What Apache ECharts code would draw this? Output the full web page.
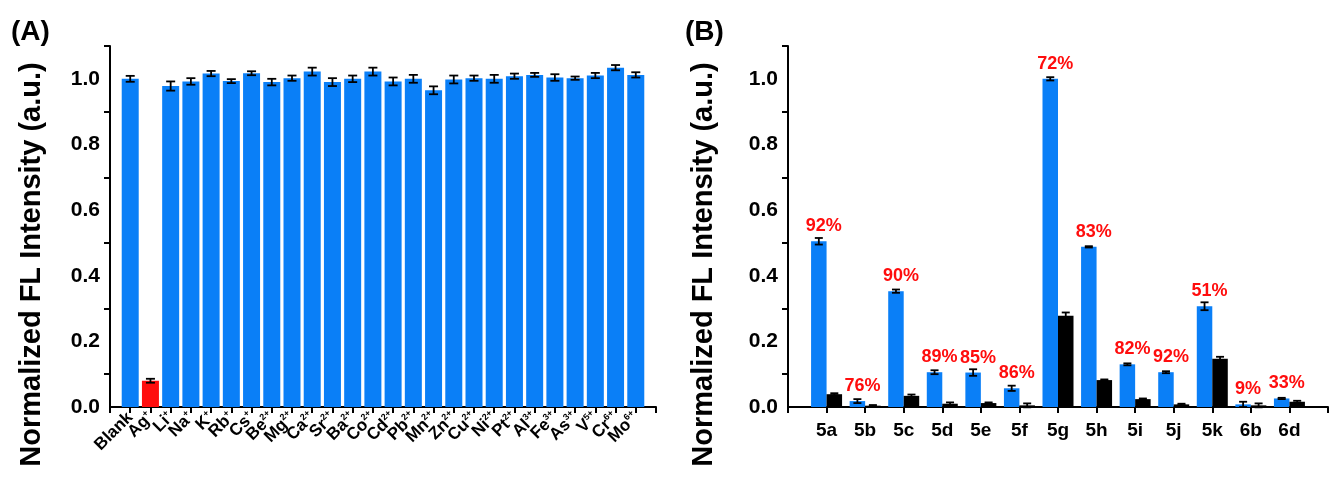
<!DOCTYPE html>
<html>
<head>
<meta charset="utf-8">
<script src="https://cdn.jsdelivr.net/npm/echarts@6/dist/echarts.min.js"></script>
<style>
html, body { margin: 0; padding: 0; background: #fff; }
#chart { width: 1331px; height: 479px; }
</style>
</head>
<body>
<div id="chart"></div>
<script>
// panel A: metal ion selectivity
var ionNames = ['Blank', 'Ag', 'Li', 'Na', 'K', 'Rb', 'Cs', 'Be', 'Mg', 'Ca', 'Sr', 'Ba', 'Co',
    'Cd', 'Pb', 'Mn', 'Zn', 'Cu', 'Ni', 'Pt', 'Al', 'Fe', 'As', 'V', 'Cr', 'Mo'];
var ionCharges = ['', '+', '+', '+', '+', '+', '+', '2+', '2+', '2+', '2+', '2+', '2+',
    '2+', '2+', '2+', '2+', '2+', '2+', '2+', '3+', '3+', '3+', '5+', '6+', '6+'];
var ionValues = [1.000, 0.080, 0.978, 0.992, 1.016, 0.993, 1.017, 0.990, 1.002, 1.022, 0.990, 1.000, 1.022,
    0.992, 1.000, 0.965, 0.998, 1.002, 1.000, 1.008, 1.012, 1.004, 1.002, 1.010, 1.034, 1.012];
var ionErrors = [0.009, 0.006, 0.014, 0.010, 0.008, 0.006, 0.006, 0.010, 0.008, 0.012, 0.012, 0.010, 0.012,
    0.012, 0.012, 0.012, 0.012, 0.008, 0.012, 0.008, 0.006, 0.010, 0.005, 0.008, 0.008, 0.008];
var quenchIon = 'Ag';

// panel B: compounds, before / after
var compounds = ['5a', '5b', '5c', '5d', '5e', '5f', '5g', '5h', '5i', '5j', '5k', '6b', '6d'];
var blueValues = [0.505, 0.018, 0.353, 0.106, 0.105, 0.057, 1.000, 0.488, 0.130, 0.106, 0.307, 0.008, 0.026];
var blueErrors = [0.010, 0.006, 0.005, 0.006, 0.010, 0.008, 0.005, 0.002, 0.003, 0.003, 0.012, 0.008, 0.002];
var blackValues = [0.039, 0.004, 0.034, 0.010, 0.012, 0.005, 0.278, 0.082, 0.024, 0.008, 0.147, 0.005, 0.016];
var blackErrors = [0.003, 0.002, 0.004, 0.004, 0.002, 0.006, 0.010, 0.002, 0.002, 0.002, 0.006, 0.006, 0.003];
var percents = ['92%', '76%', '90%', '89%', '85%', '86%', '72%', '83%', '82%', '92%', '51%', '9%', '33%'];

// y axis ticks
var yLabelValues = [0, 0.2, 0.4, 0.6, 0.8, 1.0];
var yTickValues = [0.1, 0.3, 0.5, 0.7, 0.9, 1.1];

var FONT = 'Liberation Sans, Arial, sans-serif';
var BLUE = '#0a7ff7';
var RED = '#ff0d0d';
var yTitle = 'Normalized FL Intensity (a.u.)';

function errorBars(shift, cap) {
    return function (params, api) {
        var x = api.value(0), y = api.value(1), e = api.value(2);
        var hi = api.coord([x, y + e]);
        var lo = api.coord([x, y - e]);
        var cx = hi[0] + shift;
        var st = { stroke: '#000', lineWidth: 1.8 };
        return {
            type: 'group',
            children: [
                { type: 'line', shape: { x1: cx, y1: hi[1], x2: cx, y2: lo[1] }, style: st },
                { type: 'line', shape: { x1: cx - cap, y1: hi[1], x2: cx + cap, y2: hi[1] }, style: st },
                { type: 'line', shape: { x1: cx - cap, y1: lo[1], x2: cx + cap, y2: lo[1] }, style: st }
            ]
        };
    };
}

function pairs(vals) {
    return vals.map(function (v, i) { return [i, v]; });
}
function triples(vals, errs) {
    return vals.map(function (v, i) { return [i, v, errs[i]]; });
}

function makeYAxis(gridIndex, gap) {
    return {
        type: 'value',
        gridIndex: gridIndex,
        min: 0,
        max: 1.1,
        name: yTitle,
        nameLocation: 'middle',
        nameGap: gap,
        nameTextStyle: { fontFamily: FONT, fontSize: 29, fontWeight: 'bold', color: '#000', padding: [0, 76, 0, 0] },
        splitLine: { show: false },
        axisLine: { show: true, onZero: false, lineStyle: { color: '#000', width: 2 } },
        axisTick: { show: true, length: 6, lineStyle: { width: 2, color: '#000' }, customValues: yTickValues },
        axisLabel: {
            customValues: yLabelValues,
            fontFamily: FONT, fontSize: 21, fontWeight: 'bold', color: '#000', margin: 10,
            formatter: function (v) { return v.toFixed(1); }
        }
    };
}

function makeXAxis(gridIndex, count, label) {
    return {
        type: 'value', gridIndex: gridIndex, min: -1, max: count, interval: 1,
        splitLine: { show: false },
        axisLine: { onZero: false, lineStyle: { color: '#000', width: 2 } },
        axisTick: { show: true, length: 6, lineStyle: { width: 2, color: '#000' } },
        axisLabel: label
    };
}

var chart = echarts.init(document.getElementById('chart'));
chart.setOption({
    animation: false,
    backgroundColor: '#fff',
    title: [
        { text: '(A)', left: 6, top: 13, textStyle: { fontFamily: FONT, fontSize: 28, fontWeight: 'bold', color: '#000' } },
        { text: '(B)', left: 680, top: 13, textStyle: { fontFamily: FONT, fontSize: 28, fontWeight: 'bold', color: '#000' } }
    ],
    grid: [
        { left: 110, top: 46, width: 546, height: 361 },
        { left: 788, top: 46, width: 541, height: 361 }
    ],
    xAxis: [
        makeXAxis(0, ionNames.length, {
            rotate: 45, margin: 8, color: '#000',
            formatter: function (v) {
                var i = Math.round(v);
                if (i < 0 || i >= ionNames.length) return '';
                return ionCharges[i] ? '{b|' + ionNames[i] + '}{s|' + ionCharges[i] + '}' : '{b|' + ionNames[i] + '}';
            },
            rich: {
                b: { fontFamily: FONT, fontSize: 17, fontWeight: 'bold', color: '#000', lineHeight: 18 },
                s: { fontFamily: FONT, fontSize: 9, fontWeight: 'bold', color: '#000', lineHeight: 18, verticalAlign: 'top' }
            }
        }),
        makeXAxis(1, compounds.length, {
            margin: 14, fontFamily: FONT, fontSize: 19, fontWeight: 'bold', color: '#000',
            formatter: function (v) {
                var i = Math.round(v);
                return (i >= 0 && i < compounds.length) ? compounds[i] : '';
            }
        })
    ],
    yAxis: [makeYAxis(0, 64), makeYAxis(1, 70)],
    series: [
        {
            type: 'bar', xAxisIndex: 0, yAxisIndex: 0, barWidth: 17,
            data: pairs(ionValues),
            itemStyle: {
                color: function (p) { return ionNames[p.dataIndex] === quenchIon ? RED : BLUE; }
            }
        },
        {
            type: 'custom', xAxisIndex: 0, yAxisIndex: 0, z: 5,
            renderItem: errorBars(0, 4.5),
            encode: { x: 0, y: 1 },
            data: triples(ionValues, ionErrors)
        },
        {
            type: 'bar', xAxisIndex: 1, yAxisIndex: 1, barWidth: 15.5, barGap: '0%',
            data: pairs(blueValues),
            itemStyle: { color: BLUE },
            label: {
                show: true, position: 'top', distance: 6, offset: [5, 0],
                fontFamily: FONT, fontSize: 18, fontWeight: 'bold', color: RED,
                formatter: function (p) { return percents[p.dataIndex]; }
            }
        },
        {
            type: 'bar', xAxisIndex: 1, yAxisIndex: 1, barWidth: 15.5, barGap: '0%',
            data: pairs(blackValues),
            itemStyle: { color: '#000' }
        },
        {
            type: 'custom', xAxisIndex: 1, yAxisIndex: 1, z: 5,
            renderItem: errorBars(-7.75, 4),
            encode: { x: 0, y: 1 },
            data: triples(blueValues, blueErrors)
        },
        {
            type: 'custom', xAxisIndex: 1, yAxisIndex: 1, z: 5,
            renderItem: errorBars(7.75, 4),
            encode: { x: 0, y: 1 },
            data: triples(blackValues, blackErrors)
        }
    ]
});
</script>
</body>
</html>
